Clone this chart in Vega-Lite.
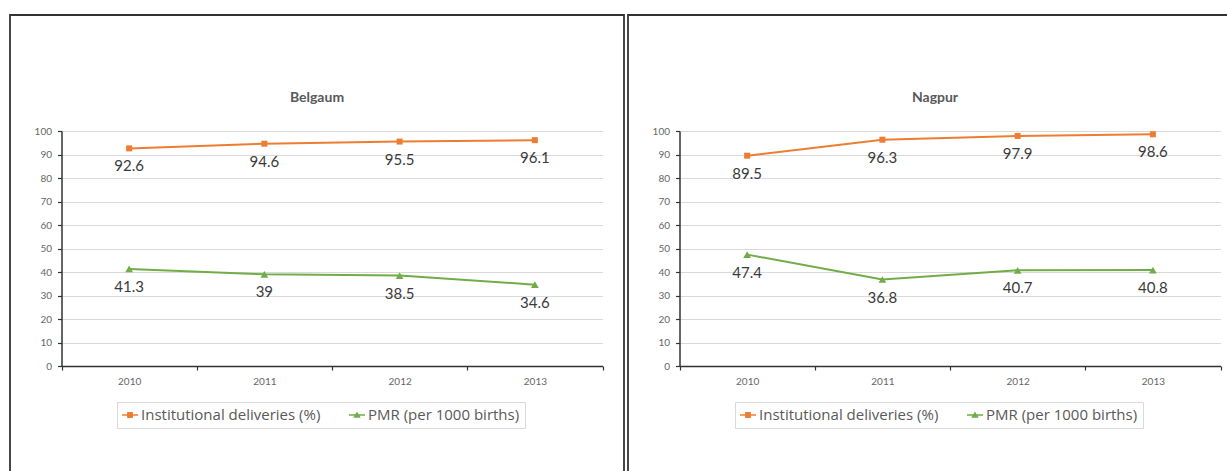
{
  "$schema": "https://vega.github.io/schema/vega-lite/v6.json",
  "background": "white",
  "padding": {"left": 9, "top": 14, "right": 0, "bottom": 0},
  "spacing": 2,
  "data": {
    "values": [
      {"city": "Belgaum", "year": "2010", "series": "Institutional deliveries (%)", "value": 92.6},
      {"city": "Belgaum", "year": "2011", "series": "Institutional deliveries (%)", "value": 94.6},
      {"city": "Belgaum", "year": "2012", "series": "Institutional deliveries (%)", "value": 95.5},
      {"city": "Belgaum", "year": "2013", "series": "Institutional deliveries (%)", "value": 96.1},
      {"city": "Belgaum", "year": "2010", "series": "PMR (per 1000 births)", "value": 41.3},
      {"city": "Belgaum", "year": "2011", "series": "PMR (per 1000 births)", "value": 39},
      {"city": "Belgaum", "year": "2012", "series": "PMR (per 1000 births)", "value": 38.5},
      {"city": "Belgaum", "year": "2013", "series": "PMR (per 1000 births)", "value": 34.6},
      {"city": "Nagpur", "year": "2010", "series": "Institutional deliveries (%)", "value": 89.5},
      {"city": "Nagpur", "year": "2011", "series": "Institutional deliveries (%)", "value": 96.3},
      {"city": "Nagpur", "year": "2012", "series": "Institutional deliveries (%)", "value": 97.9},
      {"city": "Nagpur", "year": "2013", "series": "Institutional deliveries (%)", "value": 98.6},
      {"city": "Nagpur", "year": "2010", "series": "PMR (per 1000 births)", "value": 47.4},
      {"city": "Nagpur", "year": "2011", "series": "PMR (per 1000 births)", "value": 36.8},
      {"city": "Nagpur", "year": "2012", "series": "PMR (per 1000 births)", "value": 40.7},
      {"city": "Nagpur", "year": "2013", "series": "PMR (per 1000 births)", "value": 40.8}
    ]
  },
  "hconcat": [
    {
      "width": 614,
      "height": 465,
      "title": {"text": "Belgaum", "anchor": "middle", "frame": "group", "offset": -100.5, "baseline": "alphabetic", "fontSize": 14, "fontWeight": "bold", "color": "#595959", "font": "Lato"},
      "transform": [{"filter": "datum.city === 'Belgaum'"}],
      "encoding": {
        "x": {"field": "year", "type": "ordinal", "bandPosition": 0.5,
          "scale": {"type": "band", "range": [51.5, 592.5], "paddingInner": 0, "paddingOuter": 0},
          "axis": {"title": null, "orient": "bottom", "offset": -114, "tickBand": "extent", "labelAngle": 0, "grid": false, "domainColor": "#333333", "domainWidth": 1.5, "tickColor": "#333333", "tickWidth": 1.2, "tickSize": 4, "labelColor": "#666666", "labelFont": "Lato", "labelFontSize": 10, "labelPadding": 6}},
        "y": {"field": "value", "type": "quantitative",
          "scale": {"domain": [0, 100], "range": [351, 116], "nice": false},
          "axis": {"title": null, "offset": -51.5, "values": [0, 10, 20, 30, 40, 50, 60, 70, 80, 90, 100], "grid": true, "gridColor": "#d9d9d9", "gridWidth": 1, "domainColor": "#333333", "domainWidth": 1.5, "tickColor": "#333333", "tickWidth": 1.2, "tickSize": 4, "labelColor": "#666666", "labelFont": "Lato", "labelFontSize": 10, "labelPadding": 6}}
      },
      "layer": [
        {
          "mark": {"type": "point", "filled": true, "opacity": 0},
          "encoding": {
            "color": {"field": "series", "type": "nominal", "scale": {"domain": ["Institutional deliveries (%)", "PMR (per 1000 births)"], "range": ["#ED7D31", "#70AD47"]},
              "legend": {"orient": "none", "legendX": 107, "legendY": 387, "direction": "horizontal", "title": null, "padding": 5, "strokeColor": "#d9d9d9", "fillColor": "white", "labelFont": "Open Sans", "labelFontSize": 15, "labelColor": "#595959", "labelLimit": 400, "symbolSize": 256, "symbolOpacity": 1, "symbolStrokeWidth": 0, "labelOffset": 3, "columnPadding": 28}},
            "shape": {"field": "series", "type": "nominal", "scale": {"domain": ["Institutional deliveries (%)", "PMR (per 1000 births)"], "range": ["M-1,-0.1H1V0.1H-1ZM-0.36,-0.36H0.36V0.36H-0.36Z", "M-1,-0.1H1V0.1H-1ZM0,-0.45L0.47,0.35H-0.47Z"]},
              "legend": {"orient": "none", "legendX": 107, "legendY": 387, "direction": "horizontal", "title": null, "padding": 5, "strokeColor": "#d9d9d9", "fillColor": "white", "labelFont": "Open Sans", "labelFontSize": 15, "labelColor": "#595959", "labelLimit": 400, "symbolSize": 256, "symbolOpacity": 1, "symbolStrokeWidth": 0, "labelOffset": 3, "columnPadding": 28}}
          }
        },
        {
          "transform": [{"filter": "datum.series === 'Institutional deliveries (%)'"}],
          "mark": {"type": "line", "strokeWidth": 2, "color": "#ED7D31"}
        },
        {
          "transform": [{"filter": "datum.series === 'PMR (per 1000 births)'"}],
          "mark": {"type": "line", "strokeWidth": 2, "color": "#70AD47"}
        },
        {
          "transform": [{"filter": "datum.series === 'Institutional deliveries (%)'"}],
          "mark": {"type": "point", "filled": true, "opacity": 1, "shape": "square", "size": 36, "color": "#ED7D31"}
        },
        {
          "transform": [{"filter": "datum.series === 'PMR (per 1000 births)'"}],
          "mark": {"type": "point", "filled": true, "opacity": 1, "shape": "triangle-up", "size": 60, "color": "#70AD47"}
        },
        {
          "mark": {"type": "text", "dy": 23, "baseline": "alphabetic", "fontSize": 15, "font": "Lato", "color": "#3a3a3a"},
          "encoding": {"text": {"field": "value", "type": "quantitative"}}
        }
      ]
    },
    {
      "width": 614,
      "height": 465,
      "title": {"text": "Nagpur", "anchor": "middle", "frame": "group", "offset": -100.5, "baseline": "alphabetic", "fontSize": 14, "fontWeight": "bold", "color": "#595959", "font": "Lato"},
      "transform": [{"filter": "datum.city === 'Nagpur'"}],
      "encoding": {
        "x": {"field": "year", "type": "ordinal", "bandPosition": 0.5,
          "scale": {"type": "band", "range": [51.5, 592.5], "paddingInner": 0, "paddingOuter": 0},
          "axis": {"title": null, "orient": "bottom", "offset": -114, "tickBand": "extent", "labelAngle": 0, "grid": false, "domainColor": "#333333", "domainWidth": 1.5, "tickColor": "#333333", "tickWidth": 1.2, "tickSize": 4, "labelColor": "#666666", "labelFont": "Lato", "labelFontSize": 10, "labelPadding": 6}},
        "y": {"field": "value", "type": "quantitative",
          "scale": {"domain": [0, 100], "range": [351, 116], "nice": false},
          "axis": {"title": null, "offset": -51.5, "values": [0, 10, 20, 30, 40, 50, 60, 70, 80, 90, 100], "grid": true, "gridColor": "#d9d9d9", "gridWidth": 1, "domainColor": "#333333", "domainWidth": 1.5, "tickColor": "#333333", "tickWidth": 1.2, "tickSize": 4, "labelColor": "#666666", "labelFont": "Lato", "labelFontSize": 10, "labelPadding": 6}}
      },
      "layer": [
        {
          "mark": {"type": "point", "filled": true, "opacity": 0},
          "encoding": {
            "color": {"field": "series", "type": "nominal", "scale": {"domain": ["Institutional deliveries (%)", "PMR (per 1000 births)"], "range": ["#ED7D31", "#70AD47"]},
              "legend": {"orient": "none", "legendX": 107, "legendY": 387, "direction": "horizontal", "title": null, "padding": 5, "strokeColor": "#d9d9d9", "fillColor": "white", "labelFont": "Open Sans", "labelFontSize": 15, "labelColor": "#595959", "labelLimit": 400, "symbolSize": 256, "symbolOpacity": 1, "symbolStrokeWidth": 0, "labelOffset": 3, "columnPadding": 28}},
            "shape": {"field": "series", "type": "nominal", "scale": {"domain": ["Institutional deliveries (%)", "PMR (per 1000 births)"], "range": ["M-1,-0.1H1V0.1H-1ZM-0.36,-0.36H0.36V0.36H-0.36Z", "M-1,-0.1H1V0.1H-1ZM0,-0.45L0.47,0.35H-0.47Z"]},
              "legend": {"orient": "none", "legendX": 107, "legendY": 387, "direction": "horizontal", "title": null, "padding": 5, "strokeColor": "#d9d9d9", "fillColor": "white", "labelFont": "Open Sans", "labelFontSize": 15, "labelColor": "#595959", "labelLimit": 400, "symbolSize": 256, "symbolOpacity": 1, "symbolStrokeWidth": 0, "labelOffset": 3, "columnPadding": 28}}
          }
        },
        {
          "transform": [{"filter": "datum.series === 'Institutional deliveries (%)'"}],
          "mark": {"type": "line", "strokeWidth": 2, "color": "#ED7D31"}
        },
        {
          "transform": [{"filter": "datum.series === 'PMR (per 1000 births)'"}],
          "mark": {"type": "line", "strokeWidth": 2, "color": "#70AD47"}
        },
        {
          "transform": [{"filter": "datum.series === 'Institutional deliveries (%)'"}],
          "mark": {"type": "point", "filled": true, "opacity": 1, "shape": "square", "size": 36, "color": "#ED7D31"}
        },
        {
          "transform": [{"filter": "datum.series === 'PMR (per 1000 births)'"}],
          "mark": {"type": "point", "filled": true, "opacity": 1, "shape": "triangle-up", "size": 60, "color": "#70AD47"}
        },
        {
          "mark": {"type": "text", "dy": 23, "baseline": "alphabetic", "fontSize": 15, "font": "Lato", "color": "#3a3a3a"},
          "encoding": {"text": {"field": "value", "type": "quantitative"}}
        }
      ]
    }
  ],
  "resolve": {
    "scale": {"x": "independent", "y": "independent", "color": "independent", "shape": "independent"},
    "legend": {"color": "independent", "shape": "independent"}
  },
  "config": {
    "font": "Lato",
    "view": {"stroke": "#333333", "strokeWidth": 1.8}
  }
}
